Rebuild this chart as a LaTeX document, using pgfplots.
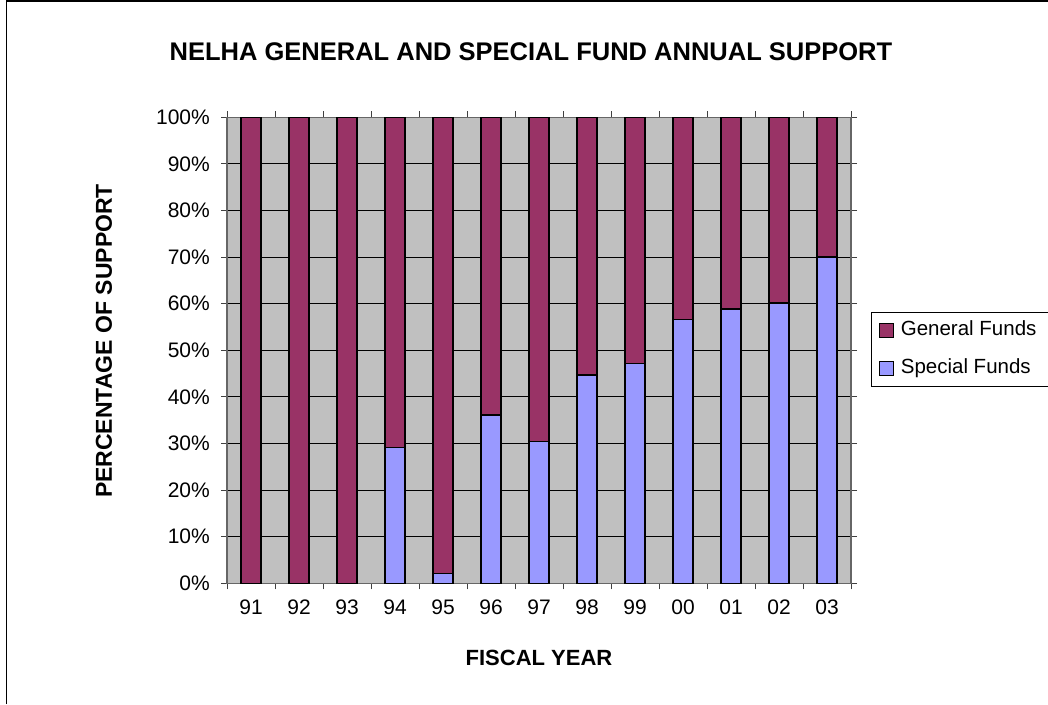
\documentclass[border=0pt]{standalone}
\usepackage{pgfplots}
\pgfplotsset{compat=1.18}
\usepackage{fontspec}
\setmainfont{Liberation Sans}
\definecolor{genc}{RGB}{153,51,102}
\definecolor{spec}{RGB}{153,153,255}
\definecolor{bgc}{RGB}{192,192,192}
\begin{document}
\begin{tikzpicture}[x=1pt,y=1pt]
\path[use as bounding box, clip] (0,0) rectangle (1048,704);
\draw[line width=1.5pt] (6.5,0) -- (6.5,703.2) -- (1048,703.2);
\begin{axis}[
  at={(227pt,120.7pt)}, anchor=south west,
  scale only axis, width=624pt, height=466pt,
  xmin=-0.5, xmax=12.5, ymin=0, ymax=100,
  axis background/.style={fill=bgc},
  ybar stacked, bar width=20pt,
  xtick={0,...,12},
  xticklabels={91,92,93,94,95,96,97,98,99,00,01,02,03},
  minor xtick={-0.5,0.5,...,12.5},
  ytick={0,10,...,100},
  yticklabels={0\%,10\%,20\%,30\%,40\%,50\%,60\%,70\%,80\%,90\%,100\%},
  tick align=outside, major tick length=6pt, minor tick length=6pt,
  x tick style={draw=none},
  minor x tick style={draw=black!75, line width=1pt},
  y tick style={draw=black!75, line width=1pt},
  ymajorgrids, major grid style={draw=black, line width=0.9pt},
  axis line style={draw=black!60, line width=1.2pt},
  tick label style={font=\fontsize{21}{25}\selectfont},
  yticklabel style={anchor=east, inner sep=0pt, xshift=-11pt},
  xticklabel style={anchor=north, inner sep=0pt, yshift=-10pt},
  every axis plot/.append style={draw=black, line width=1.6pt},
  reverse legend,
  legend cell align=left,
  legend style={at={(1.0321,0.583)}, anchor=north west,
    draw=black, line width=1pt,
    font=\fontsize{20.5}{24}\selectfont,
    inner xsep=7pt, inner ysep=8.5pt, row sep=19pt,
    nodes={inner sep=0pt, text height=15pt, text depth=4pt}},
  legend image code/.code={\draw[#1,/tikz/.cd,line width=1pt] (0pt,-7pt) rectangle (14pt,7pt); \path (21pt,0pt);},
]
\addplot[fill=spec] coordinates {(0,0) (1,0) (2,0) (3,29.1) (4,2.1) (5,36.1) (6,30.4) (7,44.7) (8,47.2) (9,56.6) (10,58.9) (11,60.2) (12,70.0)};
\addlegendentry{\makebox[200pt][l]{Special Funds}}
\addplot[fill=genc] coordinates {(0,100) (1,100) (2,100) (3,70.9) (4,97.9) (5,63.9) (6,69.6) (7,55.3) (8,52.8) (9,43.4) (10,41.1) (11,39.8) (12,30.0)};
\addlegendentry{\makebox[200pt][l]{General Funds}}
\end{axis}
\node[font=\bfseries\fontsize{25.5}{30}\selectfont, inner sep=0pt] at (531,652) {NELHA GENERAL AND SPECIAL FUND ANNUAL SUPPORT};
\node[font=\bfseries\fontsize{23}{27}\selectfont, inner sep=0pt, rotate=90] at (104,363) {PERCENTAGE OF SUPPORT};
\node[font=\bfseries\fontsize{22}{26}\selectfont, inner sep=0pt] at (539,46) {FISCAL YEAR};
\end{tikzpicture}
\end{document}
